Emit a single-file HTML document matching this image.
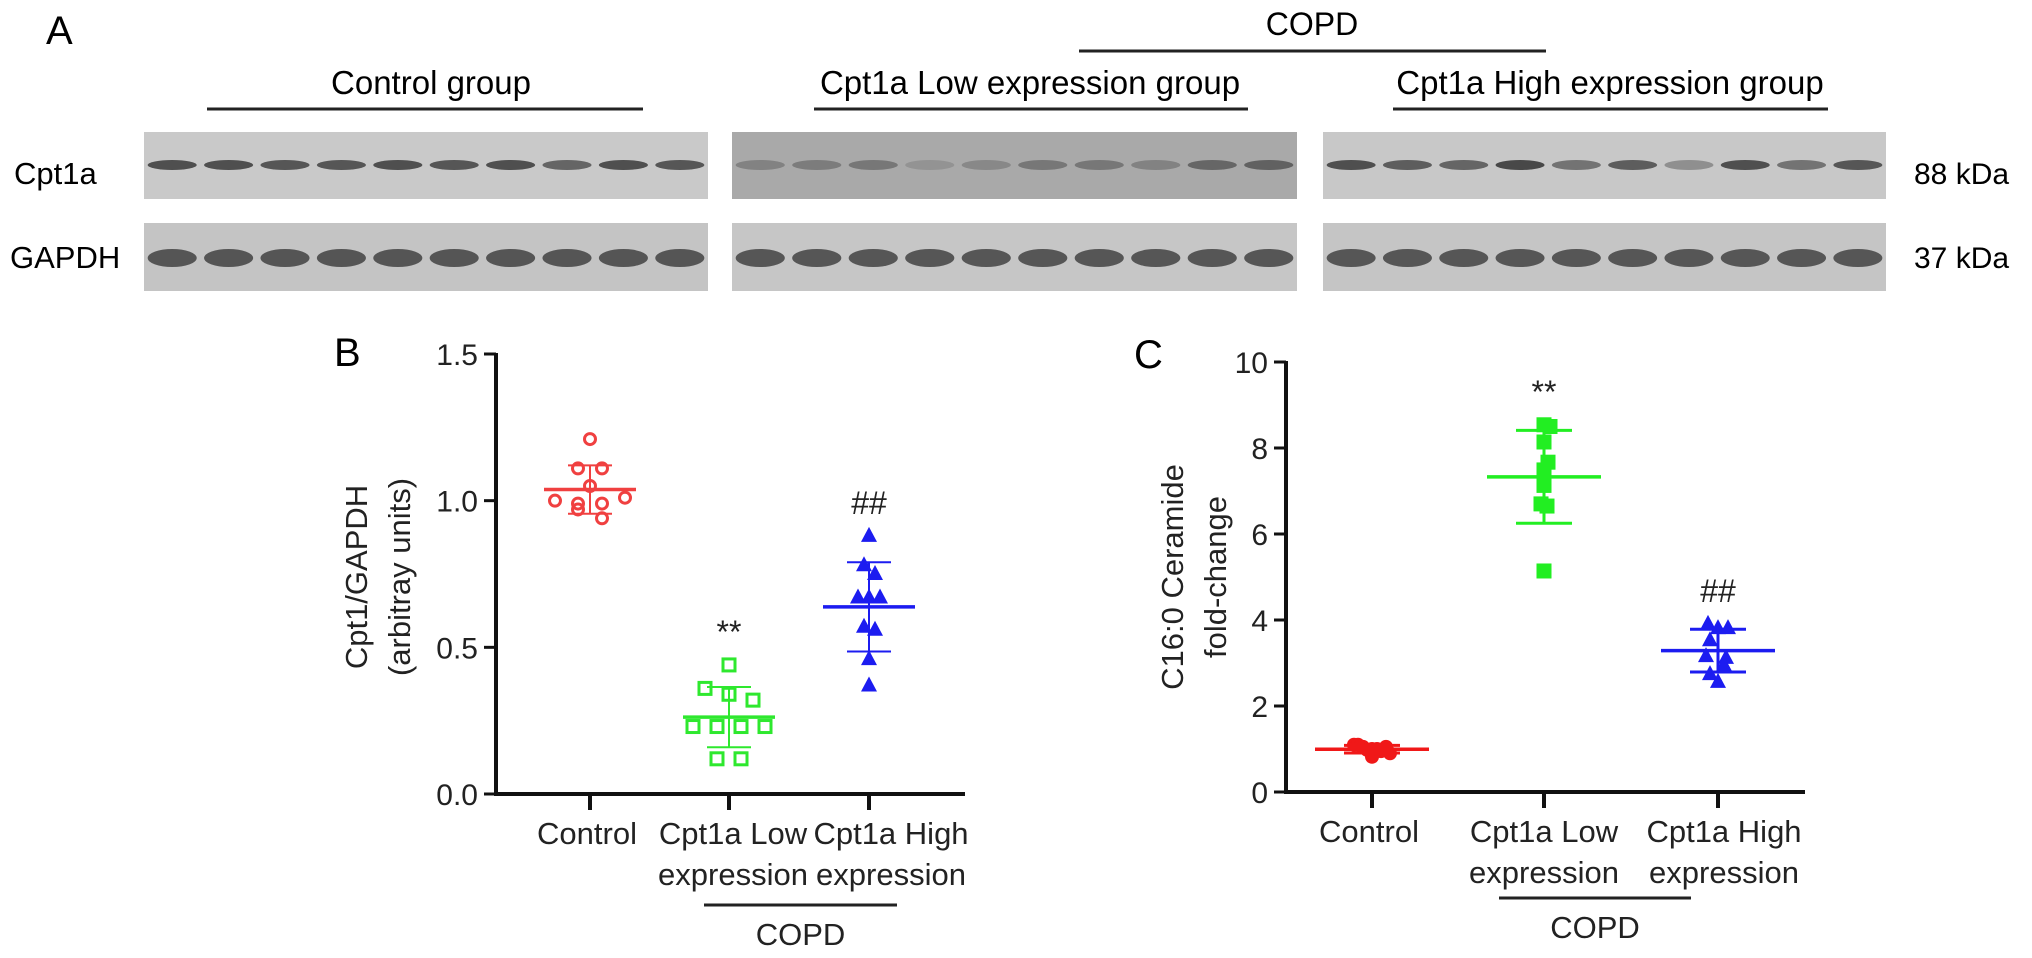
<!DOCTYPE html>
<html><head><meta charset="utf-8">
<style>
html,body{margin:0;padding:0;background:#fff;}
svg{display:block;font-family:"Liberation Sans",Arial,sans-serif;}
</style></head>
<body>
<svg id="fig" width="2032" height="958" viewBox="0 0 2032 958" xmlns="http://www.w3.org/2000/svg">
  <!-- Panel A -->
  <text x="46" y="44" font-size="40">A</text>
  <text x="1312" y="35" font-size="32" text-anchor="middle">COPD</text>
  <line x1="1079" y1="51" x2="1546" y2="51" stroke="#222" stroke-width="3"/>
  <text x="431" y="94" font-size="33" text-anchor="middle">Control group</text>
  <line x1="207" y1="109" x2="643" y2="109" stroke="#222" stroke-width="3"/>
  <text x="1030" y="94" font-size="33" text-anchor="middle">Cpt1a Low expression group</text>
  <line x1="814" y1="109" x2="1248" y2="109" stroke="#222" stroke-width="3"/>
  <text x="1610" y="94" font-size="33" text-anchor="middle">Cpt1a High expression group</text>
  <line x1="1393" y1="109" x2="1828" y2="109" stroke="#222" stroke-width="3"/>
  <text x="14" y="184" font-size="31">Cpt1a</text>
  <text x="10" y="268" font-size="31">GAPDH</text>
  <text x="1914" y="184" font-size="30">88 kDa</text>
  <text x="1914" y="268" font-size="30">37 kDa</text>
  <g id="blots"></g>

  <!-- Panel B -->
  <text x="334" y="366" font-size="40">B</text>
  <g id="chartB"></g>
  <!-- Panel C -->
  <text x="1134" y="368" font-size="40">C</text>
  <g id="chartC"></g>
</svg>
<script>
// ---------- Panel B data ----------
var bCategories = ["Control", "Cpt1a Low|expression", "Cpt1a High|expression"];
var bControl = [1.21, 1.11, 1.11, 1.05, 1.00, 1.01, 0.99, 0.97, 0.99, 0.94];
var bLow = [0.44, 0.36, 0.34, 0.32, 0.23, 0.23, 0.23, 0.23, 0.12, 0.12];
var bHigh = [0.88, 0.78, 0.75, 0.67, 0.67, 0.67, 0.57, 0.56, 0.46, 0.37];
var bTicks = ["0.0", "0.5", "1.0", "1.5"];
var bTickValues = [0, 0.5, 1.0, 1.5];
var bAnnotations = ["", "**", "##"];
// ---------- Panel C data ----------
var cCategories = ["Control", "Cpt1a Low|expression", "Cpt1a High|expression"];
var cControl = [1.10, 1.05, 1.00, 0.95, 0.90, 1.10, 0.82, 1.05, 0.98, 1.00];
var cLow = [8.54, 8.50, 8.14, 7.67, 7.49, 7.13, 6.70, 6.65, 5.14];
var cHigh = [3.91, 3.81, 3.81, 3.53, 3.16, 3.12, 2.95, 2.74, 2.56];
var cTicks = ["0", "2", "4", "6", "8", "10"];
var cTickValues = [0, 2, 4, 6, 8, 10];
var cAnnotations = ["", "**", "##"];

var NS = "http://www.w3.org/2000/svg";
function mk(tag, attrs, parent) {
  var e = document.createElementNS(NS, tag);
  for (var k in attrs) e.setAttribute(k, attrs[k]);
  parent.appendChild(e);
  return e;
}
function mean(a){var s=0;for(var i=0;i<a.length;i++)s+=a[i];return s/a.length;}
function sd(a){var m=mean(a),s=0;for(var i=0;i<a.length;i++)s+=(a[i]-m)*(a[i]-m);return Math.sqrt(s/(a.length-1));}

// ---------- Blots ----------
(function(){
  var g = document.getElementById('blots');
  var panels = [[144,708],[732,1297],[1323,1886]];
  var rows = [[132,199],[223,291]];
  var bg = [["#c9c9c9","#c4c4c4"],["#a9a9a9","#c6c6c6"],["#c8c8c8","#c5c5c5"]];
  var cptAlpha = [[0.85,0.85,0.8,0.8,0.85,0.8,0.85,0.7,0.85,0.8],[0.35,0.4,0.45,0.2,0.3,0.45,0.45,0.35,0.6,0.65],[0.85,0.75,0.7,0.9,0.6,0.75,0.4,0.85,0.6,0.8]];
  for (var p=0;p<3;p++){
    for (var r=0;r<2;r++){
      var rect = mk('rect',{x:panels[p][0],y:rows[r][0],width:panels[p][1]-panels[p][0],height:rows[r][1]-rows[r][0],fill:bg[p][r]},g);
      
      
      var w = panels[p][1]-panels[p][0];
      for (var l=0;l<10;l++){
        var cx = panels[p][0] + w*(l+0.5)/10;
        var cy = r===0 ? 165 : 258;
        var band = mk('ellipse',{cx:cx,cy:cy,rx:w/23,ry:r===0?5:9,fill:"#3a3a3a","fill-opacity":r===0?cptAlpha[p][l]:0.8},g);
        
        
      }
    }
  }
})();

// ---------- Scatter chart builder ----------
function buildChart(cfg){
  var g = cfg.g;
  function y(v){ return cfg.y0 + (cfg.y1 - cfg.y0) * (v - cfg.vmin)/(cfg.vmax - cfg.vmin); }
  function x(i){ return cfg.xs[i]; }
  var ya = mk('line',{x1:cfg.ax,y1:y(cfg.vmax)-1,x2:cfg.ax,y2:y(cfg.vmin)+2,stroke:"#111","stroke-width":4},g);
   
  var xa = mk('line',{x1:cfg.ax-2,y1:y(cfg.vmin),x2:cfg.axEnd,y2:y(cfg.vmin),stroke:"#111","stroke-width":4},g);
   
  for (var t=0;t<cfg.tickValues.length;t++){
    var ty = y(cfg.tickValues[t]);
    var tl = mk('line',{x1:cfg.ax-12,y1:ty,x2:cfg.ax,y2:ty,stroke:"#111","stroke-width":3},g);
     
    var tt = mk('text',{x:cfg.ax-18,y:ty+11,"font-size":30,"text-anchor":"end",fill:"#222"},g);
    tt.textContent = cfg.ticks[t];
     
  }
  var yt = mk('text',{"font-size":31,"text-anchor":"middle",fill:"#222",transform:"translate("+cfg.titleX+","+cfg.titleY+") rotate(-90)"},g);
   
  var s1 = mk('tspan',{x:0,y:0},yt); s1.textContent = cfg.title[0];
  var s2 = mk('tspan',{x:0,y:43},yt); s2.textContent = cfg.title[1];
  for (var i=0;i<cfg.cats.length;i++){
    var ct = mk('line',{x1:x(i),y1:y(cfg.vmin),x2:x(i),y2:y(cfg.vmin)+16,stroke:"#111","stroke-width":4},g);
     
    var parts = cfg.cats[i].split('|');
    for (var k=0;k<parts.length;k++){
      var lt = mk('text',{x:x(i)+cfg.labelShift[i],y:y(cfg.vmin)+50+k*41,"font-size":31,"text-anchor":"middle",fill:"#222"},g);
      lt.textContent = parts[k];
       
    }
  }
  var cl = mk('line',{x1:cfg.copd[0],y1:cfg.copd[2],x2:cfg.copd[1],y2:cfg.copd[2],stroke:"#222","stroke-width":3},g);
   
  var ctx = mk('text',{x:(cfg.copd[0]+cfg.copd[1])/2,y:cfg.copd[2]+40,"font-size":31,"text-anchor":"middle",fill:"#222"},g);
  ctx.textContent = "COPD";
   

  for (var s=0;s<cfg.series.length;s++){
    var data = cfg.series[s], col = cfg.colors[s], cx = x(s);
    var m = mean(data), d = sd(data);
    var jit = cfg.jitter[s];
    for (var j=0;j<data.length;j++){
      var px = cx + jit[j % jit.length], py = y(data[j]);
      var mark;
      if (cfg.shapes[s]==='circle'){
        mark = mk('circle',{cx:px,cy:py,r:5.5,fill:cfg.filled?col:"none",stroke:col,"stroke-width":3},g);
      } else if (cfg.shapes[s]==='square'){
        mark = mk('rect',{x:px-6,y:py-6,width:12,height:12,fill:cfg.filled?col:"none",stroke:col,"stroke-width":3},g);
      } else {
        mark = mk('polygon',{points:(px)+","+(py-9)+" "+(px-8)+","+(py+6)+" "+(px+8)+","+(py+6),fill:col},g);
      }
      
      
    }
    var ml = mk('line',{x1:cx-cfg.meanHalf,y1:y(m),x2:cx+cfg.meanHalf,y2:y(m),stroke:col,"stroke-width":3.5},g);
     
    var el = mk('line',{x1:cx,y1:y(m+d),x2:cx,y2:y(m-d),stroke:col,"stroke-width":cfg.errW},g);
     
    var c1 = mk('line',{x1:cx-cfg.capHalf,y1:y(m+d),x2:cx+cfg.capHalf,y2:y(m+d),stroke:col,"stroke-width":cfg.errW},g);
     
    var c2 = mk('line',{x1:cx-cfg.capHalf,y1:y(m-d),x2:cx+cfg.capHalf,y2:y(m-d),stroke:col,"stroke-width":cfg.errW},g);
     
    if (cfg.annotations[s]){
      var top = Math.max.apply(null,data);
      var an = mk('text',{x:cx,y:y(top)-22,"font-size":32,"text-anchor":"middle",fill:"#222"},g);
      an.textContent = cfg.annotations[s];
       
    }
  }
}

buildChart({
  g: document.getElementById('chartB'),
  vmin:0, vmax:1.5, y0:794, y1:354, ax:496, axEnd:965,
  xs:[590,729,869],
  labelShift:[-3,4,22],
  cats:bCategories, ticks:bTicks, tickValues:bTickValues,
  title:["Cpt1/GAPDH","(arbitray units)"], titleX:367, titleY:577,
  copd:[704,897,905],
  series:[bControl,bLow,bHigh],
  colors:["#f04040","#2ee82e","#1c1cf0"],
  shapes:["circle","square","triangle"], filled:false,
  jitter:[[0,-12,12,0,-35,35,-12,-12,12,12],[0,-24,0,24,-36,-12,12,36,-12,12],[0,-5,6,-11,11,0,-5,6,0,0]],
  meanHalf:46, capHalf:22, errW:2, annotations:bAnnotations
});
buildChart({
  g: document.getElementById('chartC'),
  vmin:0, vmax:10, y0:792, y1:362, ax:1286, axEnd:1805,
  xs:[1372,1544,1718],
  labelShift:[-3,0,6],
  cats:cCategories, ticks:cTicks, tickValues:cTickValues,
  title:["C16:0 Ceramide","fold-change"], titleX:1183, titleY:577,
  copd:[1499,1691,898],
  series:[cControl,cLow,cHigh],
  colors:["#f01818","#22ee22","#1c1cf0"],
  shapes:["circle","square","triangle"], filled:true,
  jitter:[[-18,-9,0,9,18,-14,0,14,-5,5],[0,6,0,4,0,0,-3,3,0],[-10,0,10,-8,-12,8,6,-8,0]],
  meanHalf:57, capHalf:28, errW:3, annotations:cAnnotations
});
</script>
</body></html>
